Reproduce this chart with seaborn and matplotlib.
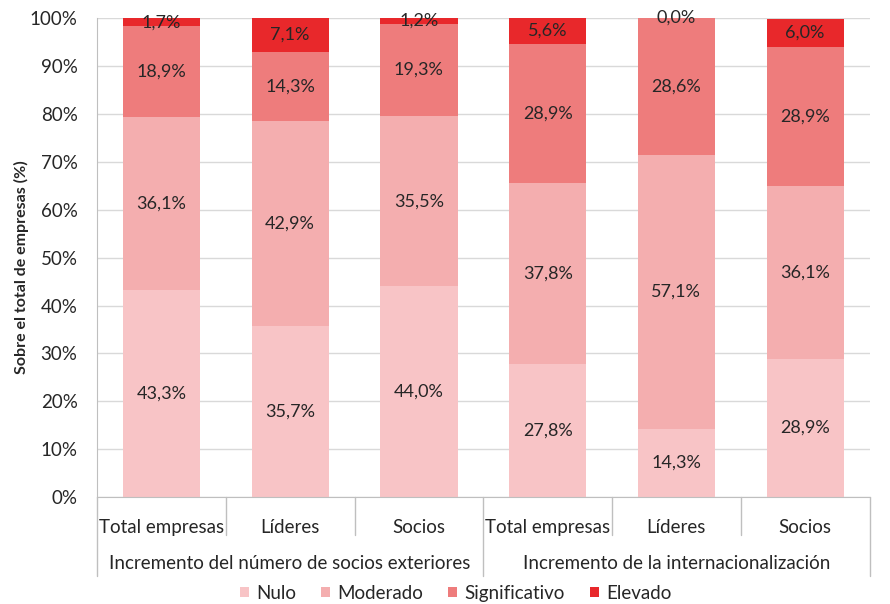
import numpy as np
import pandas as pd
import matplotlib
matplotlib.use("Agg")
import matplotlib.pyplot as plt
import matplotlib.transforms as mtransforms
from matplotlib.patches import Patch
import seaborn as sns

# Data
groups = ["Incremento del número de socios exteriores", "Incremento de la internacionalización"]
categories = ["Total empresas", "Líderes", "Socios", "Total empresas", "Líderes", "Socios"]
levels = ["Nulo", "Moderado", "Significativo", "Elevado"]
nulo = [43.3, 35.7, 44.0, 27.8, 14.3, 28.9]
moderado = [36.1, 42.9, 35.5, 37.8, 57.1, 36.1]
significativo = [18.9, 14.3, 19.3, 28.9, 28.6, 28.9]
elevado = [1.7, 7.1, 1.2, 5.6, 0.0, 6.0]

colors = ["#F8C4C6", "#F4AEAF", "#EE7C7C", "#E8282B"]

sns.set_style("white")
plt.rcParams["font.family"] = ["Lato", "DejaVu Sans"]

df = pd.DataFrame({
    "pos": [str(i) for i in range(len(categories))],
    "Nulo": nulo,
    "Moderado": moderado,
    "Significativo": significativo,
    "Elevado": elevado,
})
order = list(df["pos"])
cum = df[levels].cumsum(axis=1)

fig = plt.figure(figsize=(8.9, 6.04), dpi=100)
ax = fig.add_axes([0.109, 0.177, 0.868, 0.793])

# stacked bars drawn as layered cumulative totals (top layer first)
for lev, col in reversed(list(zip(levels, colors))):
    sns.barplot(x=df["pos"], y=cum[lev], order=order, color=col, width=0.6,
                saturation=1, linewidth=0, ax=ax, zorder=2)

# value labels
for i in range(len(df)):
    bottom = 0
    for lev in levels:
        v = df.loc[i, lev]
        ax.text(i, bottom + v / 2, f"{v:.1f}".replace(".", ",") + "%",
                ha="center", va="center", fontsize=13, color="#262626", zorder=5)
        bottom += v

ax.set_ylim(0, 100)
ax.set_xlim(-0.5, len(categories) - 0.5)
ax.set_yticks(np.arange(0, 101, 10))
ax.set_yticklabels([f"{t}%" for t in range(0, 101, 10)], fontsize=13.5)
ax.set_xticks(range(len(categories)))
ax.set_xticklabels(categories, fontsize=13.5)
ax.tick_params(axis="x", length=0, pad=16)
ax.tick_params(axis="y", length=0, pad=14)
ax.yaxis.grid(True, color="#D9D9D9", linewidth=1)
ax.set_axisbelow(True)
ax.set_xlabel("")
ax.set_ylabel("Sobre el total de empresas (%)", fontsize=11.5, fontweight="bold")
ax.yaxis.set_label_coords(-0.088, 0.48)
for s in ["top", "right"]:
    ax.spines[s].set_visible(False)
ax.spines["left"].set_color("#BFBFBF")
ax.spines["bottom"].set_color("#BFBFBF")

# category separators and group labels
trans = mtransforms.blended_transform_factory(ax.transData, ax.transAxes)
for xs in [0.5, 1.5, 3.5, 4.5]:
    ax.plot([xs, xs], [0, -0.08], transform=trans, color="#BFBFBF", lw=1, clip_on=False)
for xs in [-0.5, 2.5, 5.5]:
    ax.plot([xs, xs], [0, -0.165], transform=trans, color="#BFBFBF", lw=1, clip_on=False)
for g, name in enumerate(groups):
    ax.text(g * 3 + 1, -0.138, name, transform=trans, ha="center", va="center", fontsize=13.5)

handles = [Patch(facecolor=c, edgecolor="none", label=l) for l, c in zip(levels, colors)]
fig.legend(handles=handles, loc="center", bbox_to_anchor=(0.512, 0.018), ncol=4, frameon=False,
           fontsize=13.5, handlelength=0.5, handleheight=0.5, handletextpad=0.4, columnspacing=1.3)

fig.savefig("out.png", dpi=100)
